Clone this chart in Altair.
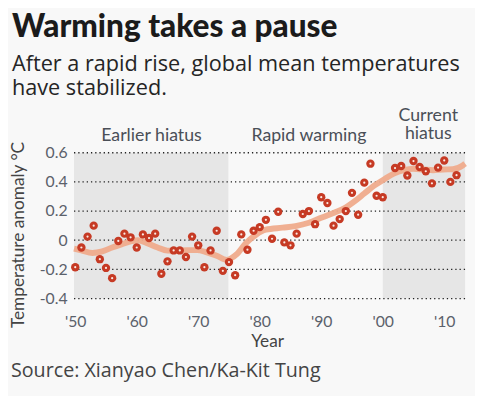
import altair as alt
import pandas as pd

# ---- data ----
years = list(range(1950, 2001)) + list(range(2002, 2013))
anomaly = [
    -0.185, -0.05, 0.025, 0.10, -0.13, -0.19, -0.26, -0.005, 0.045, 0.02,
    -0.05, 0.04, 0.015, 0.045, -0.23, -0.145, -0.07, -0.07, -0.115, 0.025,
    -0.035, -0.185, -0.07, 0.065, -0.21, -0.15, -0.24, 0.04, -0.065, 0.065,
    0.09, 0.14, 0.01, 0.195, -0.015, -0.035, 0.045, 0.18, 0.20, 0.11,
    0.295, 0.255, 0.10, 0.145, 0.20, 0.325, 0.175, 0.395, 0.525, 0.305,
    0.295,
    0.495, 0.509, 0.444, 0.543, 0.502, 0.473, 0.39, 0.498, 0.547, 0.40, 0.446,
]

trend_years = [1949.8, 1951, 1952.8, 1954.4, 1956, 1957.6, 1959.2, 1960.2, 1961.8,
               1963.4, 1965, 1966.6, 1968.2, 1969.8, 1971.4, 1973, 1974.6, 1976.2,
               1977.8, 1979.4, 1981, 1983.7, 1985.8, 1988, 1990.1, 1992.2, 1993.8,
               1995.4, 1997, 1998.6, 2000.2, 2001.8, 2003.4, 2005, 2006.6, 2008.2,
               2009.8, 2011.4, 2013, 2013.4]
trend_values = [-0.058, -0.07, -0.088, -0.077, -0.05, -0.027, -0.006, 0.0, -0.022,
                -0.05, -0.071, -0.072, -0.068, -0.068, -0.083, -0.106, -0.135, -0.098,
                -0.018, 0.038, 0.072, 0.086, 0.097, 0.12, 0.156, 0.19, 0.22,
                0.266, 0.32, 0.374, 0.417, 0.457, 0.48, 0.49, 0.485, 0.48,
                0.485, 0.487, 0.513, 0.525]

band_start = [1949.8, 2000.0]
band_end = [1974.9, 2013.4]

label_text = ["Earlier hiatus", "Rapid warming"]
label_year = [1962.4, 1988.0]
label2_text = ["Current\nhiatus"]
label2_year = [2007.4]

grid_values = [-0.4, -0.2, 0.0, 0.2, 0.4, 0.6]
x_ticks = [1950, 1960, 1970, 1980, 1990, 2000, 2010]

# ---- tables ----
pts = pd.DataFrame({"year": years, "anomaly": anomaly})
trend = pd.DataFrame({"year": trend_years, "anomaly": trend_values})
bands = pd.DataFrame({"year": band_start, "year2": band_end})
labels = pd.DataFrame({"year": label_year, "text": label_text})
labels2 = pd.DataFrame({"year": label2_year, "text": label2_text})
grid = pd.DataFrame({"anomaly": grid_values})

FONT = "Lato"
SUBFONT = "Open Sans"
GREY = "#5b616b"

xscale = alt.Scale(domain=[1949.8, 2013.4], nice=False, zero=False)
yscale = alt.Scale(domain=[-0.4, 0.6], nice=False, zero=False)

xaxis = alt.Axis(
    values=x_ticks, title="Year", domain=False, ticks=False, tickSize=0, grid=False,
    labelExpr="\"'\" + substring(toString(datum.value), 2, 4)",
    labelFont=FONT, labelFontSize=16, labelColor=GREY, labelPadding=15,
    titleFont=FONT, titleFontSize=17.5, titleColor="#444", titleFontWeight="normal",
    titleX=196, titleY=49, titleBaseline="alphabetic",
)
yaxis = alt.Axis(
    values=grid_values, title="Temperature anomaly °C", domain=False, ticks=False,
    tickSize=0, grid=False,
    labelExpr="datum.value == 0 ? '0' : (datum.value < 0 ? '-' : '') + format(abs(datum.value), '.1f')",
    labelFont=FONT, labelFontSize=16, labelColor=GREY, labelPadding=7,
    titleFont=FONT, titleFontSize=17.5, titleColor="#444", titleFontWeight="normal",
    titleX=-47, titleY=83,
)

X = alt.X("year:Q", scale=xscale, axis=xaxis)
Y = alt.Y("anomaly:Q", scale=yscale, axis=yaxis)

band_layer = alt.Chart(bands).mark_rect(color="#e6e6e6").encode(
    x=alt.X("year:Q", scale=xscale, axis=xaxis), x2="year2:Q",
    y=alt.value(0), y2=alt.value(148),
)

grid_layer = alt.Chart(grid).mark_rule(
    color="#222222", strokeWidth=1.3, strokeDash=[1.3, 3]
).encode(y=Y, x=alt.value(0), x2=alt.value(398))

trend_layer = alt.Chart(trend).mark_line(
    color="#efab8c", strokeWidth=6, interpolate="monotone", opacity=0.95
).encode(x=X, y=Y)

point_layer = alt.Chart(pts).mark_circle(size=72, color="#c63a24", opacity=1).encode(x=X, y=Y)
dot_layer = alt.Chart(pts).mark_circle(size=5, color="#fbeae4", opacity=1).encode(x=X, y=Y)

label_layer = alt.Chart(labels).mark_text(
    font=FONT, fontSize=18, color="#4a4f57", baseline="alphabetic", align="center"
).encode(x=X, y=alt.value(-12), text="text:N")

label2_layer = alt.Chart(labels2).mark_text(
    font=FONT, fontSize=18, color="#4a4f57", baseline="alphabetic", align="center",
    lineBreak="\n", lineHeight=18,
).encode(x=X, y=alt.value(-32), text="text:N")

source_layer = alt.Chart(pd.DataFrame({"t": ["Source: Xianyao Chen/Ka-Kit Tung"]})).mark_text(
    font=SUBFONT, fontSize=20, color="#444", baseline="alphabetic", align="left"
).encode(x=alt.value(-64), y=alt.value(228), text="t:N")

chart = alt.layer(
    band_layer, grid_layer, trend_layer, point_layer, dot_layer,
    label_layer, label2_layer, source_layer,
).properties(
    width=397, height=148,
    autosize=alt.AutoSizeParams(type="none"),
    padding={"left": 67, "top": 144, "right": 10, "bottom": 96},
    background="#f8f8f8",
    title=alt.TitleParams(
        text="Warming takes a pause",
        subtitle=["After a rapid rise, global mean temperatures", "have stabilized."],
        anchor="start", frame="group", dx=-63, offset=8,
        font="Lato", fontSize=32, fontWeight=900, color="#1b1b1b",
        subtitleFont=SUBFONT, subtitleFontSize=22, subtitleColor="#252525",
        subtitleLineHeight=24, subtitlePadding=10,
    ),
).configure_view(stroke=None)

chart.save("out.html", embed_options={"renderer": "svg", "actions": False})
